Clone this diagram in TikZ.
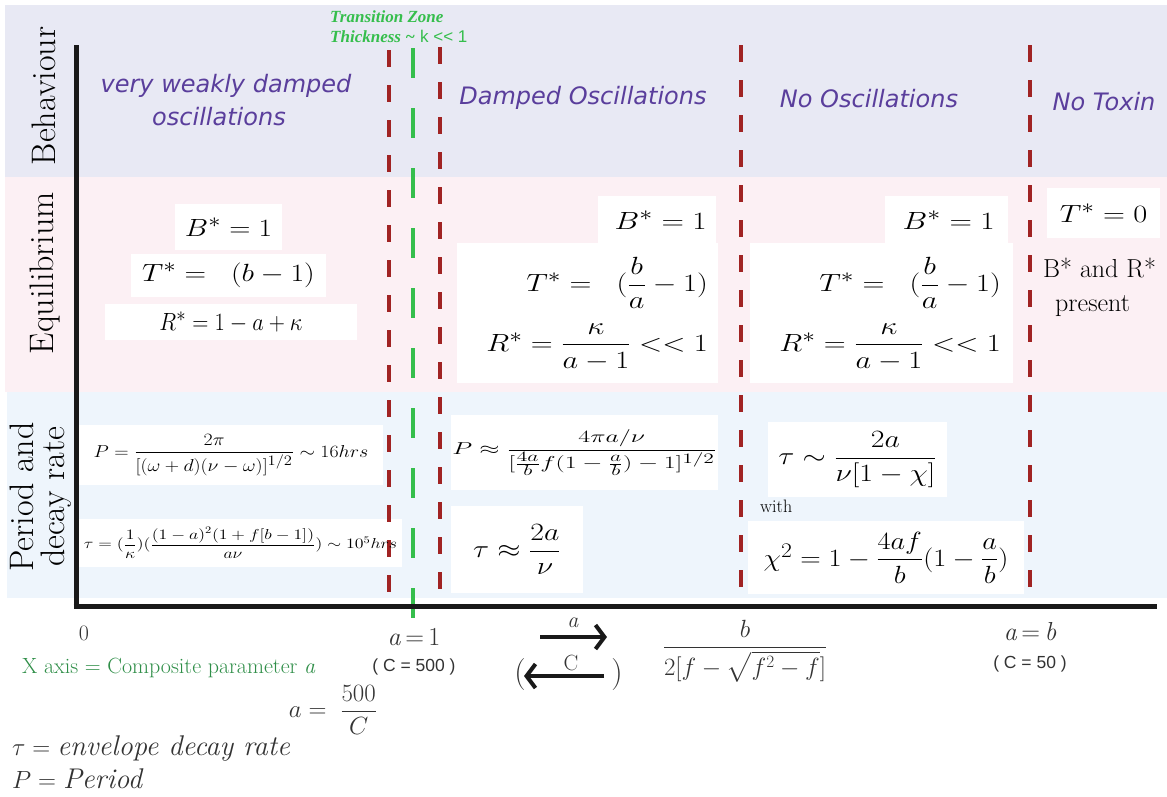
\documentclass[tikz,border=0pt]{standalone}
\usepackage{amsmath}
\usepackage{graphicx}
\usepackage{fontspec}
\usetikzlibrary{arrows.meta}
\newfontfamily\dvs{DejaVu Sans}
\newfontfamily\lsans{Liberation Sans}
\newfontfamily\lserif{Liberation Serif}
\newcommand\xstretch[2]{\scalebox{#1}[1]{#2}}
\definecolor{bandA}{HTML}{E8E9F4}
\definecolor{bandB}{HTML}{FCF0F4}
\definecolor{bandC}{HTML}{EEF5FC}
\definecolor{dred}{HTML}{A02323}
\definecolor{tgreen}{HTML}{35BE4C}
\definecolor{purp}{HTML}{5A3E9C}
\definecolor{agreen}{HTML}{2F8E48}
\definecolor{gtxt}{HTML}{333333}
\tikzset{
  lab/.style={font=\fontsize{34}{36}\selectfont, inner sep=0, rotate=90, anchor=base},
  purpl/.style={font=\dvs\itshape\fontsize{24}{28}\selectfont, text=purp, inner sep=0, anchor=base},
  wb/.style={fill=white, draw=none, inner sep=0},
  eqn/.style={font=\fontsize{30}{32}\selectfont, inner sep=0},
  pfm/.style={font=\fontsize{18}{20}\selectfont, inner sep=0},
  rdash/.style={draw=dred, line width=4pt, dash pattern=on 17pt off 18pt},
  gdash/.style={draw=tgreen, line width=4pt, dash pattern=on 30pt off 30pt},
  axisline/.style={draw=black!90, line width=5pt},
  bot/.style={text=gtxt, inner sep=0},
  arr/.style={draw=black!90, line width=4pt, -{Straight Barb[length=9pt,width=24pt]}},
}
\begin{document}
\begin{tikzpicture}[x=1pt,y=-1pt]
\useasboundingbox (0,0) rectangle (1167,796);
% bands
\fill[bandA] (5,5) rectangle (1167,177);
\fill[bandB] (5,177) rectangle (1167,392);
\fill[bandC] (7,392) rectangle (1167,598);

% band labels
\node[lab] (behav) at (55,96) {Behaviour};
\node[lab] (equil) at (53,273) {Equilibrium};
\node[lab] (per1) at (33,497) {Period and};
\node[lab] (per2) at (64,497) {decay rate};

% white boxes equilibrium
\node[wb, minimum width=107pt, minimum height=46pt] (bxB1) at (228.5,227) {};
\node[wb, minimum width=195pt, minimum height=43pt] (bxT1) at (228.5,275.5) {};
\node[wb, minimum width=252pt, minimum height=36pt] (bxR1) at (231,322) {};
\node[wb, minimum width=118pt, minimum height=47pt] (bxB2) at (657,219.5) {};
\node[wb, minimum width=261pt, minimum height=140pt] (bxM) at (587.5,313) {};
\node[wb, minimum width=123pt, minimum height=47pt] (bxB3) at (946.5,219.5) {};
\node[wb, minimum width=263pt, minimum height=140pt] (bxR) at (881.5,313) {};
\node[wb, minimum width=113pt, minimum height=50pt] (bxT0) at (1103.5,213) {};

% white boxes period
\node[wb, minimum width=304pt, minimum height=60pt] (bxPL) at (231,455) {};
\node[wb, minimum width=323pt, minimum height=48pt] (bxTL) at (240.5,543) {};
\node[wb, minimum width=267pt, minimum height=75pt] (bxPM) at (584.5,452.5) {};
\node[wb, minimum width=132pt, minimum height=87pt] (bxTM) at (517,549.5) {};
\node[wb, minimum width=179pt, minimum height=75pt] (bxTR) at (857.5,459.5) {};
\node[wb, minimum width=276pt, minimum height=73pt] (bxCH) at (886,557.5) {};

% dashed lines
\coordinate (r1t) at (389,50);  \coordinate (r1b) at (389,608);
\coordinate (r2t) at (440,47);  \coordinate (r2b) at (440,608);
\coordinate (r3t) at (741,45);  \coordinate (r3b) at (741,608);
\coordinate (r4t) at (1030,45); \coordinate (r4b) at (1030,608);
\coordinate (gt) at (413,48);   \coordinate (gb) at (413,630);
\draw[rdash] (r1t) -- (r1b);
\draw[rdash] (r2t) -- (r2b);
\draw[rdash] (r3t) -- (r3b);
\draw[rdash] (r4t) -- (r4b);
\draw[gdash] (gt) -- (gb);

% axes
\coordinate (ytop) at (76,45);
\coordinate (ybot) at (76,608.5);
\coordinate (xbeg) at (73.5,606);
\coordinate (xend) at (1157,606);
\draw[axisline] (ytop) -- (ybot);
\draw[axisline] (xbeg) -- (xend);

% transition zone
\node[anchor=base west, inner sep=0, text=tgreen, font=\lserif\bfseries\itshape\fontsize{17}{19}\selectfont] (tz1) at (330,22) {Transition Zone};
\node[anchor=base west, inner sep=0, text=tgreen, font=\fontsize{17}{19}\selectfont] (tz2) at (330,42) {{\lserif\bfseries\itshape Thickness \textasciitilde}\ {\lsans k {<}{<} 1}};

% behaviour texts
\node[purpl] (vw1) at (226,92) {very weakly damped};
\node[purpl] (vw2) at (219,125) {oscillations};
\node[purpl] (dmp) at (583,104) {Damped Oscillations};
\node[purpl] (noo) at (869,107) {No Oscillations};
\node[purpl] (notx) at (1104,110) {No Toxin};

% equilibrium texts
\node[eqn] (B1) at (bxB1) {\xstretch{1.18}{$B^*=1$}};
\node[eqn] (T1) at (bxT1) {\xstretch{1.2}{$T^* = \;\;(b-1)$}};
\node[eqn] (R1) at (bxR1) {\xstretch{0.9}{$R^*=1-a+\kappa$}};
\node[eqn, anchor=east] (B2) at (707,220) {\xstretch{1.25}{$B^*=1$}};
\node[eqn, anchor=east] (T2) at (708,283) {\xstretch{1.22}{$T^* = \;\;(\dfrac{b}{a}-1)$}};
\node[eqn, anchor=east] (R2) at (708,347) {\xstretch{1.22}{$R^* = \dfrac{\kappa}{a-1} << 1$}};
\node[eqn, anchor=east] (B3) at (995,220) {\xstretch{1.25}{$B^*=1$}};
\node[eqn, anchor=east] (T3) at (1001,283) {\xstretch{1.22}{$T^* = \;\;(\dfrac{b}{a}-1)$}};
\node[eqn, anchor=east] (R3) at (1001,347) {\xstretch{1.22}{$R^* = \dfrac{\kappa}{a-1} << 1$}};
\node[eqn] (T0) at (bxT0) {\xstretch{1.22}{$T^*=0$}};
\node[anchor=base west, inner sep=0, font=\fontsize{26}{28}\selectfont] (BR1) at (1043,277) {B* and R*};
\node[anchor=base west, inner sep=0, font=\fontsize{26}{28}\selectfont] (BR2) at (1055,311) {present};

% period texts
\node[pfm, font=\fontsize{19}{21}\selectfont] (PL) at (bxPL) {\xstretch{1.15}{$P=\dfrac{2\pi}{[(\omega+d)(\nu-\omega)]^{1/2}}\sim 16hrs$}};
\node[pfm, font=\fontsize{14}{16}\selectfont] (TL) at (bxTL) {\xstretch{1.24}{$\tau=(\dfrac{1}{\kappa})(\dfrac{(1-a)^2(1+f[b-1])}{a\nu})\sim 10^5hrs$}};
\node[pfm, font=\fontsize{19}{21}\selectfont] (PM) at (bxPM) {\xstretch{1.5}{$P\approx\dfrac{4\pi a/\nu}{[\frac{4a}{b}f(1-\frac{a}{b})-1]^{1/2}}$}};
\node[pfm, font=\fontsize{24}{26}\selectfont] (TM) at (bxTM) {\xstretch{1.2}{$\tau\approx\dfrac{2a}{\nu}$}};
\node[pfm, font=\fontsize{27}{29}\selectfont] (TR) at (bxTR) {\xstretch{1.2}{$\tau\sim\dfrac{2a}{\nu[1-\chi]}$}};
\node[anchor=base west, inner sep=0, font=\fontsize{18}{20}\selectfont] (with) at (760,512) {with};
\node[pfm, font=\fontsize{30}{32}\selectfont] (CH) at (bxCH) {\xstretch{1.14}{$\chi^2=1-\dfrac{4af}{b}(1-\dfrac{a}{b})$}};

% bottom axis labels
\node[bot, anchor=base, font=\fontsize{22}{24}\selectfont] (zero) at (84,640) {0};
\node[bot, anchor=base, font=\fontsize{26}{28}\selectfont] (a1) at (414,645) {\textit{a}\,=\,1};
\node[bot, anchor=base, font=\lsans\fontsize{17.5}{19}\selectfont] (c500) at (414,671) {( C = 500 )};
\node[anchor=base west, inner sep=0, text=agreen, font=\fontsize{22}{24}\selectfont] (xax) at (22,673) {X axis = Composite parameter \textit{a}};
\node[bot, anchor=base, font=\fontsize{22}{24}\selectfont] (lbla) at (573,627) {\textit{a}};
\coordinate (ar1s) at (540,637); \coordinate (ar1e) at (607,637);
\draw[arr] (ar1s) -- (ar1e);
\coordinate (ar2s) at (604,676); \coordinate (ar2e) at (524,676);
\draw[arr] (ar2s) -- (ar2e);
\node[bot, anchor=base, font=\fontsize{22}{24}\selectfont] (lblc) at (571,670) {C};
\node[bot, anchor=base, font=\fontsize{32}{34}\selectfont] (lp) at (520,682) {(};
\node[bot, anchor=base, font=\fontsize{32}{34}\selectfont] (rp) at (617,682) {)};
\node[bot, font=\fontsize{23}{25}\selectfont] (bfrac) at (745,651) {$\dfrac{b}{2[f-\sqrt{f^2-f}]}$};
\node[bot, anchor=base, font=\fontsize{26}{28}\selectfont] (ab) at (1030,640) {\textit{a}\,=\,\textit{b}};
\node[bot, anchor=base, font=\lsans\fontsize{17.5}{19}\selectfont] (c50) at (1030,668) {( C = 50 )};

% legend
\node[bot, font=\fontsize{30}{32}\selectfont] (a500) at (333,710) {$a=\;\dfrac{500}{C}$};
\node[bot, anchor=base west, font=\fontsize{28.5}{30}\selectfont] (leg1) at (12,755) {$\tau=\textit{envelope decay rate}$};
\node[bot, anchor=base west, font=\fontsize{28.5}{30}\selectfont] (leg2) at (12,788) {$P=\textit{Period}$};
\end{tikzpicture}
\end{document}
